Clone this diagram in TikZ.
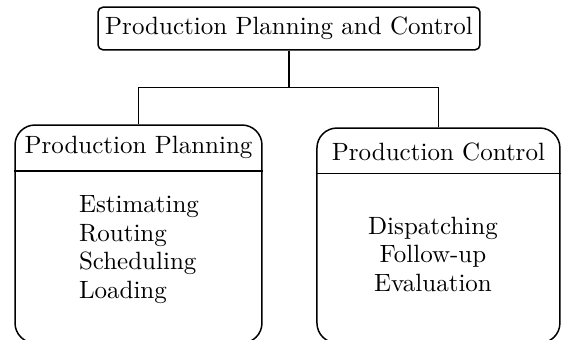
\documentclass[tikz,border=0pt]{standalone}

\begin{document}
\begin{tikzpicture}[
        topbox/.style={draw,semithick,rounded corners=2pt,minimum width=5.37cm,minimum height=0.6cm,inner sep=0pt},
        unitbox/.style={draw,semithick,rounded corners=8pt,inner sep=0pt},
        link/.style={semithick},
        itemlist/.style={inner sep=0pt,font=\fontsize{10}{11.4}\selectfont}
    ]
        \useasboundingbox (0,0) rectangle (7.887,-4.766);
        %\draw (0,0) grid (8,-5);
        \node[topbox] (ppc) at (4.063,-0.401) {Production Planning and Control};
        \node[unitbox,minimum width=3.472cm,minimum height=3.065cm] (plan) at (1.947,-3.290) {};
        \node[unitbox,minimum width=3.416cm,minimum height=3.022cm] (ctrl) at (6.164,-3.311) {};
        \coordinate (split) at ([yshift=-0.52cm]ppc.south);
        \draw[link] (ppc.south) -- (split);
        \draw[link] (plan.north) |- (split) -| (ctrl.north);
        % headers of the two boxes
        \node (plantitle) at ([yshift=-0.33cm]plan.north) {Production Planning};
        \node (ctrltitle) at ([yshift=-0.34cm]ctrl.north) {Production Control};
        \draw[link] ([yshift=-0.66cm]plan.north west) -- ([yshift=-0.66cm]plan.north east);
        \draw[link] ([yshift=-0.65cm]ctrl.north west) -- ([yshift=-0.65cm]ctrl.north east);
        % activities
        \node[itemlist,align=left] (planitems) at (1.954,-3.507) {Estimating\\Routing\\Scheduling\\Loading};
        \node[itemlist,align=center] (ctrlitems) at (6.087,-3.571) {Dispatching\\Follow-up\\Evaluation};
    \end{tikzpicture}
\end{document}
